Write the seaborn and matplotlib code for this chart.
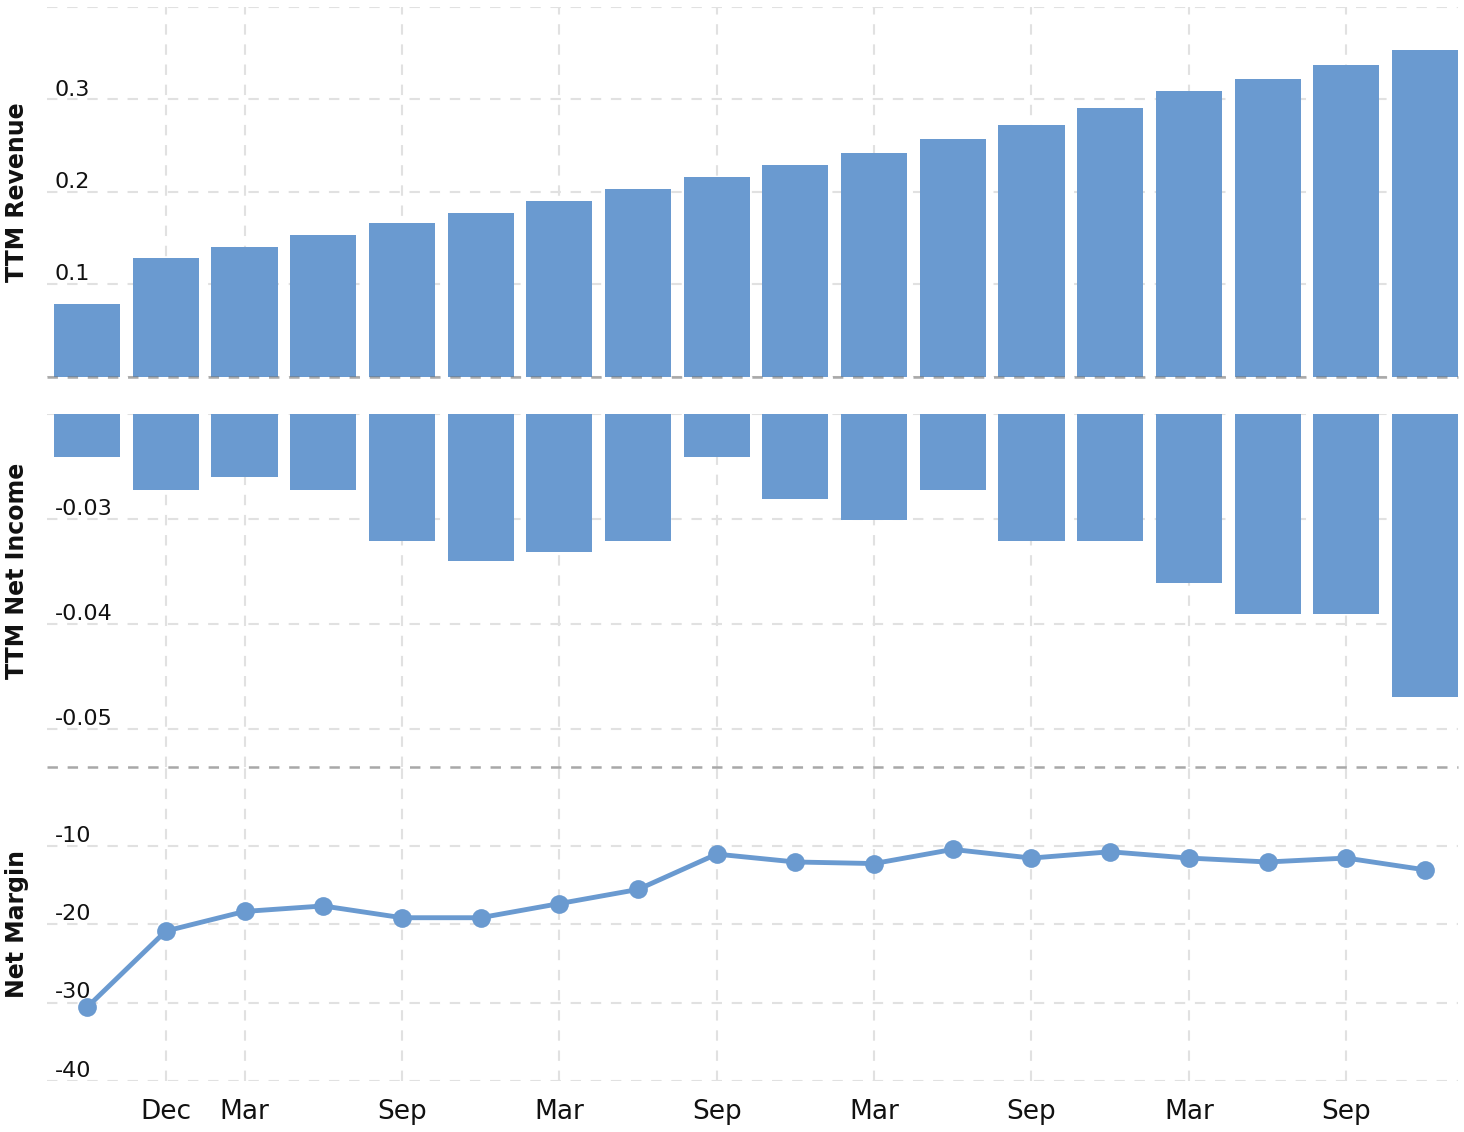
import numpy as np
import pandas as pd
import matplotlib
matplotlib.use("Agg")
import matplotlib.pyplot as plt
import seaborn as sns

# ---------------- data ----------------
periods = ["Sep", "Dec", "Mar", "Jun", "Sep", "Dec", "Mar", "Jun", "Sep",
           "Dec", "Mar", "Jun", "Sep", "Dec", "Mar", "Jun", "Sep", "Dec"]
revenue = [0.079, 0.129, 0.140, 0.153, 0.166, 0.177, 0.190, 0.203, 0.216,
           0.229, 0.242, 0.257, 0.272, 0.291, 0.309, 0.322, 0.337, 0.354]
net_income = [-0.0241, -0.0272, -0.0260, -0.0272, -0.0321, -0.0340, -0.0331, -0.0321, -0.0241,
              -0.0281, -0.0301, -0.0272, -0.0321, -0.0321, -0.0361, -0.0390, -0.0390, -0.0469]
net_margin = [-30.6, -20.9, -18.4, -17.7, -19.2, -19.2, -17.4, -15.6, -11.1,
              -12.1, -12.3, -10.5, -11.6, -10.8, -11.6, -12.1, -11.6, -13.1]
tick_positions = [1, 2, 4, 6, 8, 10, 12, 14, 16]
tick_labels = ["Dec", "Mar", "Sep", "Mar", "Sep", "Mar", "Sep", "Mar", "Sep"]
rev_ticks = [0.0, 0.1, 0.2, 0.3]
ni_ticks = [-0.03, -0.04, -0.05]
nm_ticks = [-10, -20, -30, -40]

df = pd.DataFrame({"idx": np.arange(len(revenue)), "revenue": revenue,
                   "net_income": net_income, "net_margin": net_margin})

# ---------------- style ----------------
sns.set_theme(style="white")
plt.rcParams["font.family"] = ["DejaVu Sans"]
plt.rcParams["lines.scale_dashes"] = False

BLUE = "#6a9ad0"
GRID = "#e1e1e1"
ZERO = "#a8a8a8"
DASH = (0, (7.5, 7.0))

W, H = 1464, 1132
fig = plt.figure(figsize=(W / 100, H / 100), dpi=100)

def fax(left, top, right, bottom):
    return fig.add_axes([left / W, 1 - bottom / H, (right - left) / W, (bottom - top) / H])

ax1 = fax(47, 7, 1458, 377)
ax2 = fax(47, 414, 1458, 767)
ax3 = fax(47, 767, 1458, 1081)

XLIM = (-0.51, 17.42)

sns.barplot(data=df, x="idx", y="revenue", ax=ax1, color=BLUE, saturation=1,
            width=0.84, linewidth=0, native_scale=True)
sns.barplot(data=df, x="idx", y="net_income", ax=ax2, color=BLUE, saturation=1,
            width=0.84, linewidth=0, native_scale=True)
sns.lineplot(data=df, x="idx", y="net_margin", ax=ax3, color=BLUE, linewidth=3.5,
             marker="o", markersize=13.5, markeredgewidth=0, zorder=4)

ax1.set_ylim(0, 0.4)
ax2.set_ylim(-0.0536, -0.02)
ax3.set_ylim(-40, 0)

for ax, ticks, fmt in [(ax1, rev_ticks, "{:.1f}"), (ax2, ni_ticks, "{:.2f}"), (ax3, nm_ticks, "{:.0f}")]:
    ax.set_xlim(*XLIM)
    for s in ax.spines.values():
        s.set_visible(False)
    ax.set_axisbelow(True)
    ax.set_yticks(ticks)
    ax.set_yticklabels([fmt.format(t) for t in ticks])
    ax.tick_params(axis="y", length=0, pad=-5.5, labelsize=16, labelcolor="#111111")
    for lab in ax.get_yticklabels():
        lab.set_horizontalalignment("left")
        lab.set_verticalalignment("bottom")
    ax.set_xticks(tick_positions)
    ax.grid(True, axis="x", color=GRID, linestyle=DASH, linewidth=1.5)
    ax.grid(True, axis="y", color=GRID, linestyle=DASH, linewidth=1.5)
    ax.set_xlabel("")

ax1.set_xticklabels([])
ax2.set_xticklabels([])
ax1.tick_params(axis="x", length=0)
ax2.tick_params(axis="x", length=0)
ax3.set_xticklabels(tick_labels)
ax3.tick_params(axis="x", length=0, pad=13, labelsize=19, labelcolor="#111111")

# extra gridlines at the top edges
ax1.axhline(0.4, color=GRID, linestyle=DASH, linewidth=1.5, zorder=0)
ax2.axhline(-0.02, color=GRID, linestyle=DASH, linewidth=1.5, zorder=0)
# zero lines
ax1.axhline(0.0, color="#707070", alpha=0.6, linestyle=DASH, linewidth=1.8, zorder=5, clip_on=False)
ax3.axhline(0.0, color=ZERO, linestyle=DASH, linewidth=1.8, zorder=5, clip_on=False)

for ax, text, ycoord in [(ax1, "TTM Revenue", 0.5), (ax2, "TTM Net Income", 0.555), (ax3, "Net Margin", 0.5)]:
    ax.set_ylabel(text, fontsize=17, fontweight="bold", color="#111111")
    ax.yaxis.label.set_verticalalignment("center")
    ax.yaxis.set_label_coords(-0.0215, ycoord)

fig.savefig("out.png", dpi=100, facecolor="white")
